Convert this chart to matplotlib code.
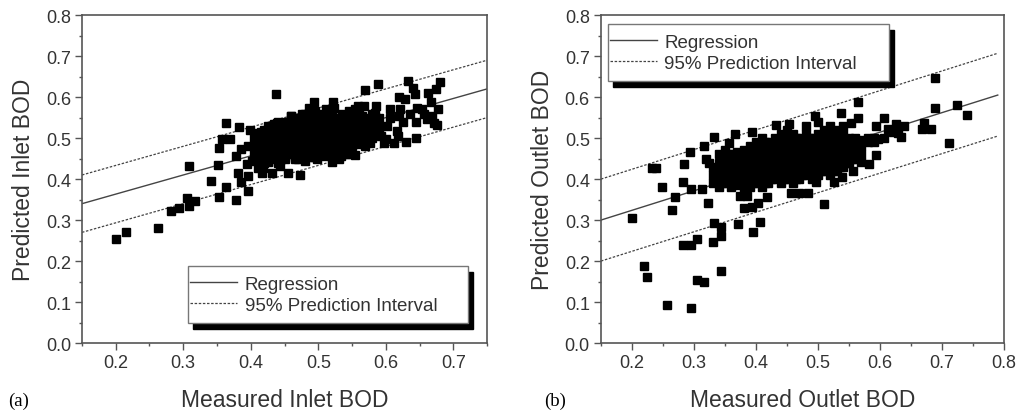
"""Measured vs predicted BOD (inlet / outlet) with regression and 95% PI."""

import matplotlib
matplotlib.use("Agg")
import matplotlib.pyplot as plt
from matplotlib.patches import Rectangle
from matplotlib.lines import Line2D
from matplotlib.ticker import MultipleLocator
import numpy as np

# ---- panel (a): inlet, scattered points (measured, predicted)
inlet_sparse = [
    (0.200, 0.254), (0.215, 0.272), (0.263, 0.280), (0.282, 0.322), (0.294, 0.329),
    (0.306, 0.353), (0.309, 0.335), (0.318, 0.347), (0.309, 0.432), (0.341, 0.396),
    (0.353, 0.357), (0.352, 0.435), (0.353, 0.475), (0.357, 0.499), (0.364, 0.380),
    (0.364, 0.537), (0.369, 0.497), (0.378, 0.348), (0.381, 0.415), (0.382, 0.528),
    (0.378, 0.457), (0.385, 0.393), (0.386, 0.473), (0.396, 0.372), (0.396, 0.408),
    (0.395, 0.437), (0.396, 0.481), (0.399, 0.519), (0.402, 0.445), (0.411, 0.428),
    (0.408, 0.510), (0.416, 0.416), (0.438, 0.607), (0.441, 0.441), (0.444, 0.432),
    (0.455, 0.416), (0.473, 0.410), (0.439, 0.536),
    (0.589, 0.631), (0.569, 0.617), (0.633, 0.639), (0.641, 0.623), (0.644, 0.607),
    (0.662, 0.611), (0.680, 0.637), (0.674, 0.621), (0.667, 0.587), (0.678, 0.570),
    (0.619, 0.601), (0.629, 0.595), (0.607, 0.570), (0.607, 0.548), (0.621, 0.572),
    (0.620, 0.553), (0.625, 0.540), (0.636, 0.558), (0.645, 0.540), (0.647, 0.574),
    (0.654, 0.570), (0.657, 0.558), (0.661, 0.546), (0.669, 0.554), (0.672, 0.538),
    (0.676, 0.531), (0.600, 0.499), (0.597, 0.488), (0.612, 0.488), (0.616, 0.518),
    (0.618, 0.504), (0.630, 0.491), (0.645, 0.501), (0.602, 0.530),
    (0.494, 0.587), (0.522, 0.587), (0.511, 0.570), (0.524, 0.574), (0.487, 0.574),
    (0.459, 0.554), (0.476, 0.558), (0.559, 0.578), (0.568, 0.578), (0.586, 0.578),
    (0.554, 0.570), (0.546, 0.566), (0.451, 0.540), (0.463, 0.546), (0.426, 0.518),
    (0.436, 0.513), (0.406, 0.513), (0.541, 0.554), (0.584, 0.562),
    (0.431, 0.416), (0.418, 0.428), (0.426, 0.441), (0.441, 0.449), (0.466, 0.449),
    (0.481, 0.445), (0.498, 0.449), (0.520, 0.441), (0.531, 0.450), (0.545, 0.461),
    (0.555, 0.458), (0.569, 0.481), (0.577, 0.489), (0.593, 0.505), (0.541, 0.461),
    (0.534, 0.457), (0.509, 0.457), (0.494, 0.453),
]

# dense core of panel (a): one column per measured value, predicted values in it
inlet_core_x = [0.41, 0.42, 0.43, 0.44, 0.45, 0.46, 0.47, 0.48, 0.49, 0.50,
                0.51, 0.52, 0.53, 0.54, 0.55, 0.56, 0.57, 0.58, 0.59,
                0.405, 0.415, 0.425, 0.435, 0.445, 0.455, 0.465, 0.475, 0.485, 0.495,
                0.505, 0.515, 0.525, 0.535, 0.545, 0.555, 0.565, 0.575, 0.585]
inlet_core_y = [
    [0.45, 0.47, 0.49, 0.51],
    [0.44, 0.46, 0.48, 0.50, 0.52],
    [0.45, 0.47, 0.49, 0.51, 0.53],
    [0.44, 0.46, 0.48, 0.50, 0.52, 0.54],
    [0.45, 0.47, 0.49, 0.51, 0.53],
    [0.46, 0.48, 0.50, 0.52, 0.54, 0.555],
    [0.45, 0.47, 0.49, 0.51, 0.53, 0.55],
    [0.46, 0.48, 0.50, 0.52, 0.54, 0.56],
    [0.455, 0.47, 0.49, 0.51, 0.53, 0.55, 0.57],
    [0.46, 0.48, 0.50, 0.52, 0.54, 0.56],
    [0.465, 0.485, 0.505, 0.525, 0.545],
    [0.46, 0.48, 0.50, 0.52, 0.54, 0.56],
    [0.47, 0.49, 0.51, 0.53, 0.55],
    [0.475, 0.495, 0.515, 0.535, 0.555],
    [0.48, 0.50, 0.52, 0.54, 0.56],
    [0.485, 0.505, 0.525, 0.545, 0.565],
    [0.49, 0.51, 0.53, 0.55],
    [0.50, 0.52, 0.54, 0.56],
    [0.51, 0.53, 0.55],
    [0.46, 0.48, 0.50],
    [0.455, 0.475, 0.495, 0.515],
    [0.45, 0.47, 0.49, 0.51, 0.53],
    [0.455, 0.475, 0.495, 0.515, 0.535],
    [0.45, 0.47, 0.49, 0.51, 0.53],
    [0.46, 0.48, 0.50, 0.52, 0.54],
    [0.455, 0.475, 0.495, 0.515, 0.535],
    [0.465, 0.485, 0.505, 0.525, 0.545],
    [0.46, 0.48, 0.50, 0.52, 0.54, 0.56],
    [0.465, 0.485, 0.505, 0.525, 0.545, 0.565],
    [0.47, 0.49, 0.51, 0.53, 0.55],
    [0.475, 0.495, 0.515, 0.535, 0.555],
    [0.47, 0.49, 0.51, 0.53, 0.55],
    [0.48, 0.50, 0.52, 0.54, 0.56],
    [0.485, 0.505, 0.525, 0.545],
    [0.49, 0.51, 0.53, 0.55],
    [0.495, 0.515, 0.535, 0.555],
    [0.50, 0.52, 0.54],
    [0.51, 0.53, 0.55],
]

inlet_line_x = [0.15, 0.75]
inlet_fit = [0.34, 0.62]
inlet_pi_low = [0.27, 0.55]
inlet_pi_high = [0.41, 0.69]

# ---- panel (b): outlet
outlet_sparse = [
    (0.200, 0.304), (0.220, 0.187), (0.225, 0.160), (0.256, 0.092), (0.295, 0.086),
    (0.305, 0.153), (0.316, 0.148), (0.344, 0.175), (0.283, 0.239), (0.295, 0.240),
    (0.305, 0.254), (0.330, 0.247), (0.344, 0.262), (0.344, 0.284), (0.333, 0.292),
    (0.371, 0.290), (0.396, 0.270), (0.406, 0.295), (0.381, 0.329), (0.393, 0.333),
    (0.403, 0.342), (0.418, 0.357), (0.374, 0.358), (0.385, 0.358), (0.264, 0.324),
    (0.323, 0.341), (0.509, 0.339), (0.232, 0.428), (0.238, 0.428), (0.248, 0.381),
    (0.269, 0.357), (0.284, 0.436), (0.283, 0.392), (0.294, 0.465), (0.295, 0.377),
    (0.316, 0.480), (0.332, 0.503), (0.313, 0.376), (0.319, 0.449), (0.325, 0.439),
    (0.357, 0.487), (0.367, 0.511), (0.393, 0.514), (0.433, 0.531), (0.453, 0.534),
    (0.495, 0.554), (0.537, 0.562), (0.565, 0.587), (0.564, 0.548), (0.553, 0.536),
    (0.594, 0.530), (0.607, 0.548), (0.613, 0.522), (0.626, 0.534), (0.639, 0.530),
    (0.629, 0.513), (0.634, 0.503), (0.621, 0.515), (0.671, 0.538), (0.668, 0.523),
    (0.683, 0.522), (0.689, 0.646), (0.689, 0.574), (0.724, 0.581), (0.741, 0.557),
    (0.712, 0.489), (0.593, 0.458), (0.582, 0.436), (0.570, 0.442), (0.539, 0.406),
    (0.556, 0.420), (0.526, 0.393), (0.497, 0.393), (0.484, 0.365), (0.469, 0.365),
    (0.457, 0.366), (0.597, 0.497), (0.607, 0.501),
]

outlet_core_x = [0.33, 0.34, 0.35, 0.36, 0.37, 0.38, 0.39, 0.40, 0.41, 0.42,
                 0.43, 0.44, 0.45, 0.46, 0.47, 0.48, 0.49, 0.50, 0.51, 0.52,
                 0.53, 0.54, 0.55, 0.56, 0.57, 0.58, 0.59,
                 0.345, 0.355, 0.365, 0.375, 0.385, 0.395, 0.405, 0.415, 0.425,
                 0.435, 0.445, 0.455, 0.465, 0.475, 0.485, 0.495, 0.505, 0.515,
                 0.525, 0.535, 0.545, 0.555, 0.565]
outlet_core_y = [
    [0.39, 0.41, 0.43],
    [0.38, 0.40, 0.42, 0.44, 0.46],
    [0.39, 0.41, 0.43, 0.45, 0.47],
    [0.38, 0.40, 0.42, 0.44, 0.46],
    [0.385, 0.405, 0.425, 0.445, 0.465],
    [0.37, 0.39, 0.41, 0.43, 0.45, 0.47],
    [0.38, 0.40, 0.42, 0.44, 0.46, 0.48],
    [0.39, 0.41, 0.43, 0.45, 0.47, 0.49],
    [0.38, 0.40, 0.42, 0.44, 0.46, 0.48, 0.50],
    [0.39, 0.41, 0.43, 0.45, 0.47, 0.49],
    [0.40, 0.42, 0.44, 0.46, 0.48, 0.50],
    [0.39, 0.41, 0.43, 0.45, 0.47, 0.49, 0.51],
    [0.40, 0.42, 0.44, 0.46, 0.48, 0.50, 0.52],
    [0.39, 0.41, 0.43, 0.45, 0.47, 0.49, 0.51],
    [0.40, 0.42, 0.44, 0.46, 0.48, 0.50],
    [0.41, 0.43, 0.45, 0.47, 0.49, 0.51, 0.53],
    [0.40, 0.42, 0.44, 0.46, 0.48, 0.50],
    [0.41, 0.43, 0.45, 0.47, 0.49, 0.51, 0.54],
    [0.42, 0.44, 0.46, 0.48, 0.50, 0.52],
    [0.41, 0.43, 0.45, 0.47, 0.49, 0.51, 0.53],
    [0.42, 0.44, 0.46, 0.48, 0.50, 0.52],
    [0.43, 0.45, 0.47, 0.49, 0.51, 0.53],
    [0.44, 0.46, 0.48, 0.50],
    [0.45, 0.47, 0.49, 0.50],
    [0.46, 0.48, 0.495],
    [0.49, 0.50],
    [0.49, 0.50],
    [0.39, 0.41, 0.43, 0.45],
    [0.40, 0.42, 0.44, 0.46],
    [0.39, 0.41, 0.43, 0.45],
    [0.395, 0.415, 0.435, 0.455],
    [0.38, 0.40, 0.42, 0.44, 0.46],
    [0.39, 0.41, 0.43, 0.45, 0.47],
    [0.40, 0.42, 0.44, 0.46, 0.48],
    [0.39, 0.41, 0.43, 0.45, 0.47, 0.49],
    [0.40, 0.42, 0.44, 0.46, 0.48],
    [0.41, 0.43, 0.45, 0.47, 0.49],
    [0.40, 0.42, 0.44, 0.46, 0.48, 0.50],
    [0.41, 0.43, 0.45, 0.47, 0.49],
    [0.40, 0.42, 0.44, 0.46, 0.48, 0.50],
    [0.41, 0.43, 0.45, 0.47, 0.49],
    [0.42, 0.44, 0.46, 0.48, 0.50],
    [0.41, 0.43, 0.45, 0.47, 0.49],
    [0.42, 0.44, 0.46, 0.48, 0.50],
    [0.43, 0.45, 0.47, 0.49],
    [0.42, 0.44, 0.46, 0.48, 0.50],
    [0.43, 0.45, 0.47, 0.49],
    [0.44, 0.46, 0.48],
    [0.45, 0.47, 0.49],
    [0.46, 0.48],
]

outlet_line_x = [0.15, 0.79]
outlet_fit = [0.30, 0.605]
outlet_pi_low = [0.20, 0.505]
outlet_pi_high = [0.40, 0.707]

TEXT = "#333333"
SPINE = "#555555"
plt.rcParams["font.family"] = ["Liberation Sans", "DejaVu Sans"]


def gather(sparse, core_x, core_y):
    xs = [p[0] for p in sparse]
    ys = [p[1] for p in sparse]
    for cx, col in zip(core_x, core_y):
        xs.extend([cx] * len(col))
        ys.extend(col)
    return np.array(xs), np.array(ys)


def draw_panel(ax, xs, ys, line_x, fit, lo, hi, xlim, xlabel, ylabel, legend_box):
    ax.plot(xs, ys, ls="none", marker="s", ms=5.2, color="black", mec="black", zorder=3)
    ax.plot(line_x, fit, color="#444444", lw=1.0, zorder=2)
    for band in (lo, hi):
        ax.plot(line_x, band, color="#444444", lw=0.9, ls=(0, (2, 1.3)), zorder=2)

    ax.set_xlim(*xlim)
    ax.set_ylim(0.0, 0.8)
    ax.xaxis.set_major_locator(MultipleLocator(0.1))
    ax.xaxis.set_minor_locator(MultipleLocator(0.05))
    ax.yaxis.set_major_locator(MultipleLocator(0.1))
    ax.yaxis.set_minor_locator(MultipleLocator(0.05))
    ax.xaxis.set_major_formatter(plt.FormatStrFormatter("%.1f"))
    ax.yaxis.set_major_formatter(plt.FormatStrFormatter("%.1f"))
    ax.tick_params(which="major", direction="out", length=5, width=1.0,
                   color=SPINE, labelsize=13, labelcolor=TEXT, pad=3)
    ax.tick_params(which="minor", direction="out", length=2.5, width=1.0, color=SPINE)
    for s in ax.spines.values():
        s.set_color(SPINE)
        s.set_linewidth(1.2)
    ax.set_xlabel(xlabel, fontsize=16.5, color=TEXT, labelpad=12)
    ax.set_ylabel(ylabel, fontsize=16.5, color=TEXT, labelpad=8)

    # legend box with a solid black drop shadow
    x0, y0, x1, y1 = legend_box
    dx, dy = 0.013, 0.019
    ax.add_patch(Rectangle((x0 + dx, y0 - dy), x1 - x0, y1 - y0, transform=ax.transAxes,
                           facecolor="black", edgecolor="black", zorder=4))
    ax.add_patch(Rectangle((x0, y0), x1 - x0, y1 - y0, transform=ax.transAxes,
                           facecolor="white", edgecolor="#777777", lw=1.0, zorder=5))
    handles = [Line2D([], [], color="#444444", lw=1.0),
               Line2D([], [], color="#444444", lw=0.9, ls=(0, (2, 1.3)))]
    leg = ax.legend(handles, ["Regression", "95% Prediction Interval"],
                    loc="center left", bbox_to_anchor=(x0 + 0.005, y0, x1 - x0, y1 - y0),
                    frameon=False, fontsize=13.5, handlelength=2.5, handletextpad=0.4,
                    borderaxespad=0.0, borderpad=0.0, labelspacing=0.2,
                    labelcolor=TEXT)
    leg.set_zorder(6)


fig = plt.figure(figsize=(10.21, 4.14), dpi=100)
ax_a = fig.add_axes([0.0803, 0.169, 0.3967, 0.792])
ax_b = fig.add_axes([0.5886, 0.169, 0.3947, 0.792])

xa, ya = gather(inlet_sparse, inlet_core_x, inlet_core_y)
draw_panel(ax_a, xa, ya, inlet_line_x, inlet_fit, inlet_pi_low, inlet_pi_high,
           (0.15, 0.75), "Measured Inlet BOD", "Predicted Inlet BOD",
           (0.262, 0.061, 0.953, 0.235))

xb, yb = gather(outlet_sparse, outlet_core_x, outlet_core_y)
draw_panel(ax_b, xb, yb, outlet_line_x, outlet_fit, outlet_pi_low, outlet_pi_high,
           (0.15, 0.80), "Measured Outlet BOD", "Predicted Outlet BOD",
           (0.017, 0.799, 0.715, 0.973))

serif = ["Liberation Serif", "DejaVu Serif"]
fig.text(0.008, 0.02, "(a)", fontsize=13.5, family=serif, color="black")
fig.text(0.533, 0.02, "(b)", fontsize=13.5, family=serif, color="black")

fig.savefig("out.png", dpi=100)
